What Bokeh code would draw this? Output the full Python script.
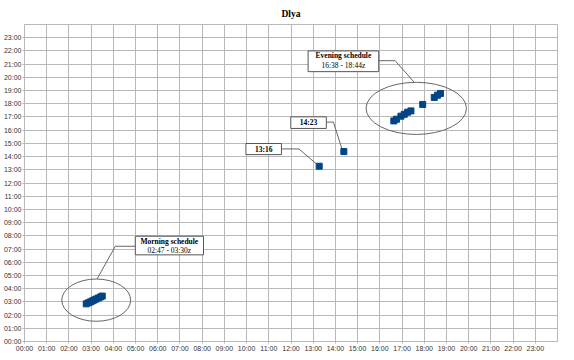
from bokeh.plotting import figure
from bokeh.models import FixedTicker, Range1d, Title
from bokeh.core.properties import value
from bokeh.embed import file_html
from bokeh.resources import INLINE

# ---- data (hours of day) ----
hour_ticks = list(range(24))
hour_labels = {h: "%02d:00" % h for h in hour_ticks}

x_times = [2.78, 2.88, 2.97, 3.05, 3.13, 3.22, 3.32, 3.42, 3.50,
           13.27, 14.38,
           16.63, 16.75, 16.95, 17.10, 17.25, 17.40, 17.93, 18.45, 18.60, 18.73]
y_times = [2.85, 2.93, 3.00, 3.07, 3.14, 3.21, 3.29, 3.37, 3.44,
           13.27, 14.38,
           16.70, 16.83, 17.06, 17.20, 17.36, 17.46, 17.95, 18.48, 18.65, 18.78]

# ellipses around schedules
ell_x = [3.23, 17.64]
ell_y = [3.13, 17.65]
ell_w = [3.10, 4.52]
ell_h = [3.20, 3.95]

# callout boxes
box_left = [4.99, 12.77, 11.99, 9.97]
box_right = [8.06, 15.95, 13.59, 11.57]
box_top = [7.97, 22.00, 17.01, 14.99]
box_bottom = [6.56, 20.43, 16.13, 14.15]

head_text = ["Morning schedule", "Evening schedule", "14:23", "13:16"]
head_x = [6.52, 14.36, 12.79, 10.77]
head_y = [7.59, 21.62, 16.57, 14.57]

sub_text = ["02:47 - 03:30z", "16:38 - 18:44z"]
sub_x = [6.52, 14.36]
sub_y = [6.89, 20.88]

# leader lines
lead_xs = [[4.99, 4.09, 3.27], [15.95, 16.69, 17.55], [13.59, 13.91, 14.30], [11.57, 12.36, 13.14]]
lead_ys = [[7.21, 7.21, 4.74], [21.26, 21.26, 19.62], [16.61, 16.61, 14.55], [14.58, 14.58, 13.45]]

grid_color = "#b8b8b8"

p = figure(frame_width=533, frame_height=317, output_backend="svg", toolbar_location=None,
           x_range=Range1d(0, 24), y_range=Range1d(0, 24),
           min_border_left=0, min_border_right=5, min_border_top=16, min_border_bottom=11)

p.title = Title(text="Dlya", align="center", text_font="Liberation Serif",
                text_font_size="9.5px", text_font_style="bold", text_color="#000000",
                offset=-11, standoff=12)

for ax in (p.xaxis, p.yaxis):
    ax.ticker = FixedTicker(ticks=hour_ticks)
    ax.major_label_overrides = hour_labels
    ax.major_label_text_font = "Liberation Sans"
    ax.major_label_text_font_size = "7px"
    ax.major_label_text_color = "#333333"
    ax.axis_line_color = grid_color
    ax.major_tick_line_color = grid_color
    ax.major_tick_in = 0
    ax.major_tick_out = 2
    ax.minor_tick_line_color = None
    ax.major_label_standoff = 1

p.xgrid.ticker = FixedTicker(ticks=hour_ticks + [24])
p.ygrid.ticker = FixedTicker(ticks=hour_ticks + [24])
p.xgrid.grid_line_color = grid_color
p.ygrid.grid_line_color = grid_color
p.outline_line_color = grid_color

p.ellipse(x=ell_x, y=ell_y, width=ell_w, height=ell_h, fill_alpha=0,
          line_color="#666666", line_width=1)

p.multi_line(xs=lead_xs, ys=lead_ys, line_color="#666666", line_width=1)

p.square(x=x_times, y=y_times, size=6, fill_color="#004586", line_color="#004586")

p.quad(left=box_left, right=box_right, top=box_top, bottom=box_bottom,
       fill_color="white", line_color="#555555", line_width=1)

p.text(x=head_x, y=head_y, text=head_text, text_font=value("Liberation Serif"),
       text_font_size="7.5px", text_font_style="bold", text_align="center",
       text_baseline="middle", text_color="#000000")
p.text(x=sub_x, y=sub_y, text=sub_text, text_font=value("Liberation Serif"),
       text_font_size="7.5px", text_align="center", text_baseline="middle",
       text_color="#000000")

open("out.html", "w").write(file_html(p, INLINE))
